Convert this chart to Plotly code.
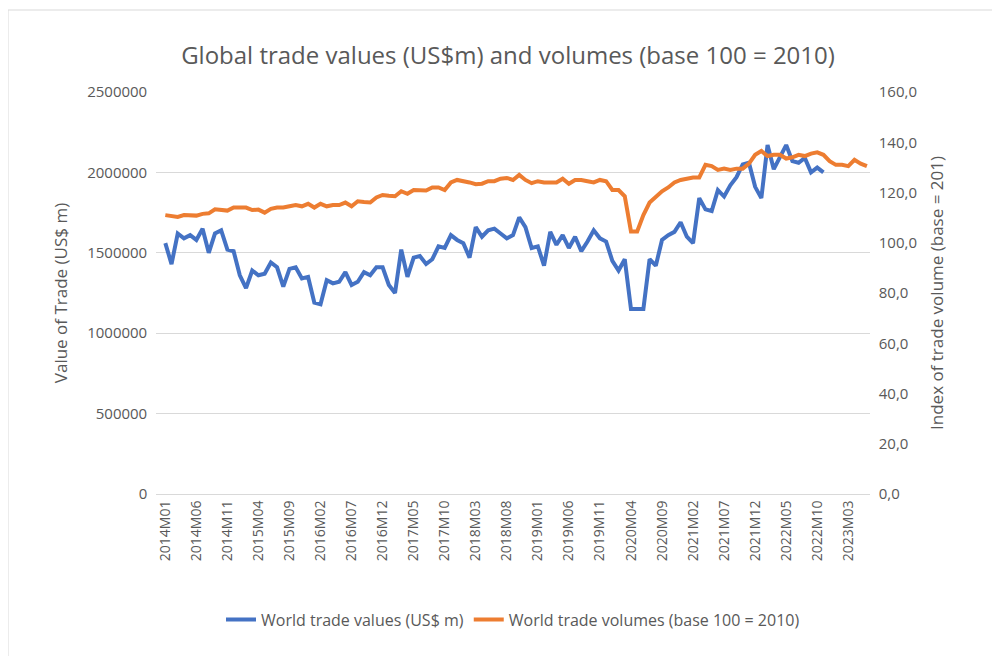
import plotly.graph_objects as go

# Monthly series
trade_values = [
    1560000, 1430000, 1620000, 1590000, 1610000, 1580000, 1650000, 1500000, 1620000, 1640000,
    1520000, 1510000, 1360000, 1280000, 1390000, 1360000, 1370000, 1440000, 1410000, 1290000,
    1400000, 1410000, 1340000, 1350000, 1190000, 1180000, 1330000, 1310000, 1320000, 1380000,
    1300000, 1320000, 1380000, 1360000, 1410000, 1410000, 1300000, 1250000, 1520000, 1350000,
    1470000, 1480000, 1430000, 1460000, 1540000, 1530000, 1610000, 1580000, 1560000, 1470000,
    1660000, 1600000, 1640000, 1650000, 1620000, 1590000, 1610000, 1720000, 1660000, 1530000,
    1540000, 1420000, 1630000, 1550000, 1610000, 1530000, 1600000, 1510000, 1570000, 1640000,
    1590000, 1570000, 1450000, 1390000, 1460000, 1150000, 1150000, 1150000, 1460000, 1420000,
    1580000, 1610000, 1630000, 1690000, 1600000, 1560000, 1840000, 1770000, 1760000, 1890000,
    1850000, 1920000, 1970000, 2050000, 2060000, 1910000, 1840000, 2170000, 2020000, 2100000,
    2170000, 2070000, 2060000, 2090000, 2000000, 2030000, 2000000,
]
trade_volumes = [
    111.0, 110.7, 110.3, 111.0, 111.0, 110.8, 111.5, 111.7, 113.3, 113.0,
    112.8, 114.0, 114.0, 114.0, 113.0, 113.2, 112.0, 113.5, 114.0, 114.0,
    114.5, 115.0, 114.5, 115.5, 114.0, 115.5, 114.5, 115.0, 115.0, 116.0,
    114.5, 116.5, 116.2, 116.0, 118.0, 119.0, 118.7, 118.5, 120.5, 119.5,
    121.0, 121.0, 120.8, 122.0, 122.0, 121.0, 124.0, 125.0, 124.6, 124.0,
    123.3, 123.5, 124.5, 124.5, 125.5, 125.8, 125.0, 127.0, 125.0, 123.7,
    124.5, 124.0, 124.0, 124.0, 125.5, 123.5, 125.0, 125.0, 124.5, 124.0,
    125.0, 124.5, 121.0, 121.0, 118.5, 104.5, 104.5, 111.0, 116.0, 118.5,
    120.5, 122.0, 124.0, 125.0, 125.5, 126.0, 126.0, 131.0, 130.5, 129.0,
    129.5, 129.0, 129.5, 129.5, 131.5, 135.0, 136.5, 134.5, 135.0, 135.0,
    133.5, 134.0, 135.0, 134.5, 135.5, 136.0, 135.0, 132.5, 131.0, 131.0,
    130.5, 133.0, 131.5, 130.5,
]

months = []
for i in range(len(trade_volumes)):
    months.append(f"{2014 + i // 12}M{i % 12 + 1:02d}")

grey = "#595959"
font = "Open Sans"

fig = go.Figure()
fig.add_trace(go.Scatter(
    x=months[:len(trade_values)], y=trade_values, mode="lines",
    name="World trade values (US$ m)", line=dict(color="#4472C4", width=4),
))
fig.add_trace(go.Scatter(
    x=months, y=trade_volumes, mode="lines", yaxis="y2",
    name="World trade volumes (base 100 = 2010)", line=dict(color="#ED7D31", width=4),
))

fig.update_layout(
    width=1000, height=656,
    paper_bgcolor="white", plot_bgcolor="white",
    margin=dict(l=148, r=138, t=84, b=170),
    font=dict(family=font, color=grey, size=15),
    title=dict(text="Global trade values (US$m) and volumes (base 100 = 2010)",
               x=0.5, y=0.94, xanchor="center", font=dict(size=24, color=grey)),
    xaxis=dict(type="category", tickvals=months[::5], tickangle=-90,
               tickfont=dict(size=14), range=[-1.5, len(months) - 0.5],
               showgrid=False, showline=True, linecolor="#D9D9D9", ticks=""),
    yaxis=dict(range=[0, 2500000], dtick=500000, tickformat="d",
               gridcolor="#D9D9D9", zeroline=False, ticksuffix="  ",
               title=dict(text="Value of Trade (US$ m)", font=dict(size=17, color=grey))),
    yaxis2=dict(range=[0, 160], dtick=20, tickformat=".1f", overlaying="y", side="right",
                showgrid=False, zeroline=False, tickprefix="  ",
                title=dict(text="Index of trade volume (base = 201)", font=dict(size=17, color=grey))),
    separators=",.",
    legend=dict(orientation="h", x=0.5, xanchor="center", y=-0.27, yanchor="top",
                font=dict(size=16, color=grey)),
    shapes=[dict(type="rect", xref="paper", yref="paper",
                 x0=-148 / 714, y0=-170 / 402, x1=1 + 136 / 714, y1=1 + 82 / 402,
                 line=dict(color="#D9D9D9", width=1))],
)
fig.write_html("out.html")
